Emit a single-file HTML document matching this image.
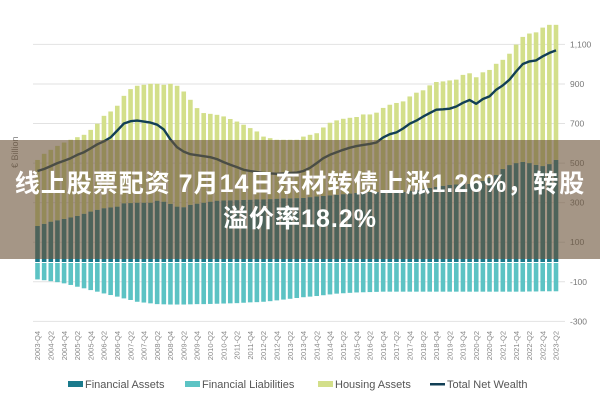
<!DOCTYPE html>
<html><head><meta charset="utf-8">
<style>
html,body{margin:0;padding:0;background:#fff;}
#wrap{position:relative;width:600px;height:400px;overflow:hidden;font-family:"Liberation Sans","Noto Sans CJK SC",sans-serif;}
#banner{position:absolute;left:0;top:140px;width:600px;height:119px;background:rgba(110,85,60,0.62);color:#fff;font-weight:bold;font-size:25px;text-align:center;line-height:35px;padding-top:27px;box-sizing:border-box;font-family:"Liberation Sans","Noto Sans CJK SC",sans-serif;letter-spacing:1px;white-space:nowrap;}
</style></head>
<body>
<div id="wrap">
<svg id="chart" width="600" height="400" xmlns="http://www.w3.org/2000/svg"></svg>
<div id="banner">线上股票配资 7月14日东材转债上涨1.26%，转股<br>溢价率18.2%</div>
</div>
<script>
const startYear = 2003;
const startQuarter = 4;
const financialAssets = [182,193,204,211,218,225,233,244,255,264,272,276,280,297,298,300,300,300,310,305,294,280,277,289,295,300,305,310,311,312,313,314,315,316,316,318,320,322,322,323,324,328,331,334,337,340,343,346,349,352,354,354,354,354,354,354,360,365,370,375,380,385,390,392,394,395,402,410,425,440,470,490,500,506,500,491,485,495,516];
const housingAssets = [334,354,363,376,386,393,398,399,413,435,467,485,510,543,576,591,596,601,591,591,607,611,585,531,483,453,444,434,425,411,397,380,362,344,318,308,298,296,296,295,310,315,320,346,367,376,381,383,384,394,392,401,425,441,450,458,477,491,498,518,530,528,528,530,552,559,532,549,546,562,552,563,599,632,655,670,700,704,683];
const financialLiabilities = [-88,-92,-97,-102,-108,-116,-125,-133,-142,-150,-159,-167,-175,-184,-192,-201,-205,-209,-213,-214,-215,-215,-215,-214,-213,-213,-212,-211,-210,-209,-208,-206,-204,-203,-201,-198,-194,-190,-186,-182,-178,-175,-172,-168,-164,-160,-158,-156,-154,-153,-152,-151,-150,-150,-150,-150,-150,-150,-150,-150,-150,-150,-150,-150,-150,-150,-150,-150,-150,-150,-150,-150,-150,-150,-149,-149,-148,-148,-148];
const netWealth = [460,470,485,500,512,525,542,555,575,595,610,630,665,700,712,715,710,705,694,670,620,580,558,545,540,535,530,520,505,492,480,466,460,455,450,448,446,448,450,452,460,476,500,525,542,555,567,578,586,592,597,604,630,646,655,675,699,715,735,753,770,772,775,786,805,819,800,824,837,871,893,922,963,1001,1014,1019,1040,1057,1070];
const yTicks = [-300,-100,100,300,500,700,900,1100];
const yTickLabels = ["-300","-100","100","300","500","700","900","1,100"];
const legendLabels = ["Financial Assets","Financial Liabilities","Housing Assets","Total Net Wealth"];

const NS="http://www.w3.org/2000/svg";
const svg=document.getElementById('chart');
const n=financialAssets.length;
const x0=37.5, x1=556, bw=4.6;
function xPos(i){return x0+(x1-x0)*i/(n-1);}
function yPos(v){return 262-v*0.1978;}
function mk(tag,attrs,parent){const e=document.createElementNS(NS,tag);for(const k in attrs)e.setAttribute(k,attrs[k]);(parent||svg).appendChild(e);return e;}

yTicks.forEach((t,k)=>{
  const g=mk('line',{x1:33,x2:565,y1:yPos(t),y2:yPos(t),stroke:'#e2e2e2','stroke-width':1});
  
  
  const tx=mk('text',{x:570,y:yPos(t)+3,'font-size':8.5,fill:'#777','font-family':'Liberation Sans, sans-serif'});
  tx.textContent=yTickLabels[k];
  
  
});
const yt=mk('text',{x:0,y:0,'font-size':9,fill:'#777',transform:'translate(18,168) rotate(-90)','font-family':'Liberation Sans, sans-serif'});
yt.textContent='€ Billion';



for(let i=0;i<n;i++){
  const cx=xPos(i);
  const fa=mk('rect',{x:cx-bw/2,y:yPos(financialAssets[i]),width:bw,height:yPos(0)-yPos(financialAssets[i]),fill:'#1a7a8c'});
  
  
  const ha=mk('rect',{x:cx-bw/2,y:yPos(financialAssets[i]+housingAssets[i]),width:bw,height:yPos(financialAssets[i])-yPos(financialAssets[i]+housingAssets[i]),fill:'#d3df8a'});
  
  
  const fl=mk('rect',{x:cx-bw/2,y:yPos(0)+1,width:bw,height:yPos(financialLiabilities[i])-yPos(0)-1,fill:'#5cc3c4'});
  
  
}
let d='';
for(let i=0;i<n;i++){d+=(i?'L':'M')+xPos(i).toFixed(1)+' '+yPos(netWealth[i]).toFixed(1);}
const ln=mk('path',{d:d,fill:'none',stroke:'#123f55','stroke-width':2.4,'stroke-linejoin':'round'});



for(let i=0;i<n;i+=2){
  const q=startQuarter-1+i;
  const yr=startYear+Math.floor(q/4);
  const qq=(q%4)+1;
  const t=mk('text',{x:0,y:0,'font-size':7.5,fill:'#888','text-anchor':'end',transform:`translate(${xPos(i)+2.7},331) rotate(-90)`,'font-family':'Liberation Sans, sans-serif'});
  t.textContent=yr+'-Q'+qq;
  
  
}

const lx=[68,185,318,430];
legendLabels.forEach((lab,k)=>{
  const g=mk('g',{});
  
  
  if(k===3){mk('rect',{x:lx[k],y:383,width:15,height:2.5,fill:'#123f55'},g);}
  else{mk('rect',{x:lx[k],y:381,width:15,height:6,fill:['#1a7a8c','#5cc3c4','#d3df8a'][k]},g);}
  const t=mk('text',{x:lx[k]+17,y:388,'font-size':11,fill:'#555','font-family':'Liberation Sans, sans-serif'},g);
  t.textContent=lab;
});
</script>
</body></html>
